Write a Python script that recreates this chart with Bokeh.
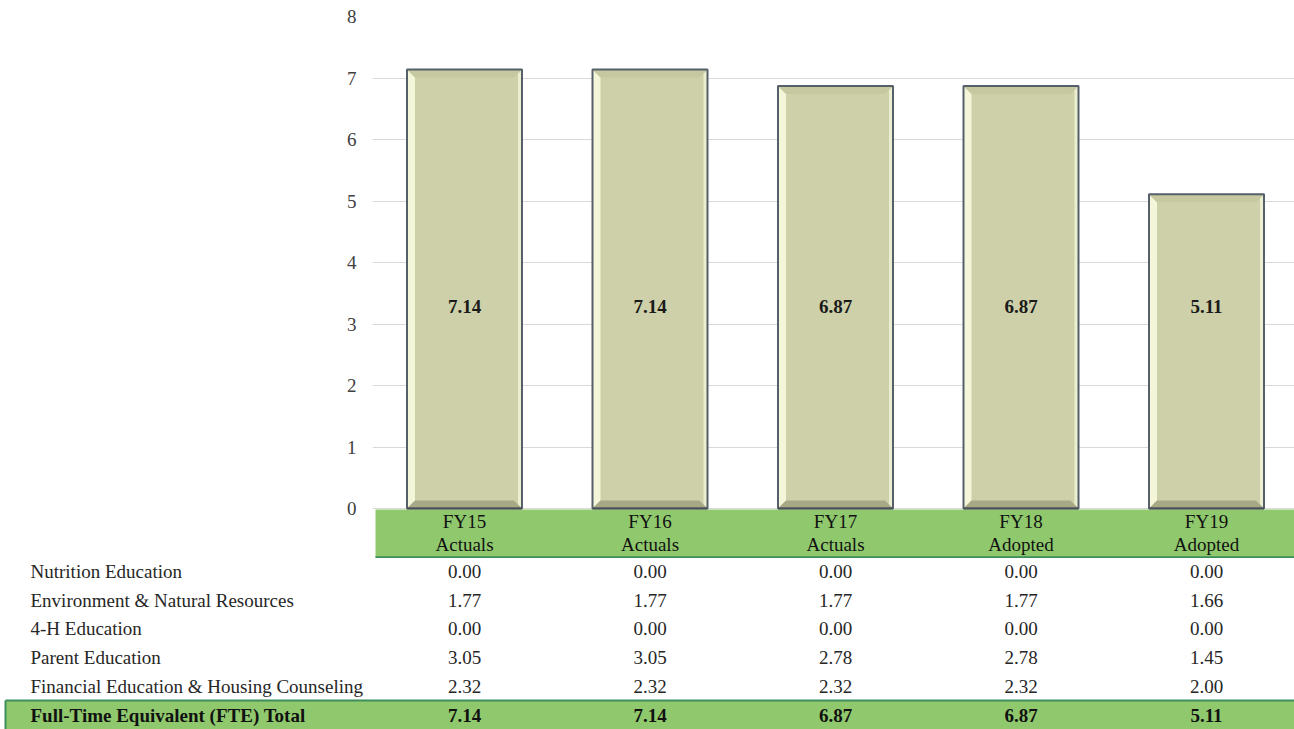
from bokeh.plotting import figure
from bokeh.layouts import column
from bokeh.models import Range1d, FixedTicker
from bokeh.core.properties import value
from bokeh.embed import file_html
from bokeh.resources import INLINE

# ---- data ----
categories = ["FY15\nActuals", "FY16\nActuals", "FY17\nActuals", "FY18\nAdopted", "FY19\nAdopted"]
cat_line1 = ["FY15", "FY16", "FY17", "FY18", "FY19"]
cat_line2 = ["Actuals", "Actuals", "Actuals", "Adopted", "Adopted"]
row_labels = ["Nutrition Education", "Environment & Natural Resources", "4-H Education",
              "Parent Education", "Financial Education & Housing Counseling"]
nutrition = [0.00, 0.00, 0.00, 0.00, 0.00]
environment = [1.77, 1.77, 1.77, 1.77, 1.66]
four_h = [0.00, 0.00, 0.00, 0.00, 0.00]
parent = [3.05, 3.05, 2.78, 2.78, 1.45]
financial = [2.32, 2.32, 2.32, 2.32, 2.00]
fte_total = [7.14, 7.14, 6.87, 6.87, 5.11]
total_label = "Full-Time Equivalent (FTE) Total"
y_ticks = [0, 1, 2, 3, 4, 5, 6, 7, 8]

FONT = value("Liberation Serif")
GREEN = "#90C96D"
DKGREEN = "#3E8E5C"
W = 1294
PX_PER_X = 185.5
PX_PER_Y = 61.5

xs = list(range(len(categories)))

# ---- top chart ----
x_lo = -92 / PX_PER_X
x_hi = x_lo + (W - 372) / PX_PER_X
y_lo = -50 / PX_PER_Y
p = figure(width=W, height=558, output_backend="svg", toolbar_location=None,
           x_range=Range1d(x_lo, x_hi), y_range=Range1d(y_lo, 8),
           min_border_left=372, min_border_right=0, min_border_top=16, min_border_bottom=0)
p.frame_align = False
p.outline_line_color = None
p.xaxis.visible = False
p.xgrid.visible = False
p.ygrid.ticker = FixedTicker(ticks=y_ticks)
p.ygrid.grid_line_color = "#D9D9D9"
p.ygrid.grid_line_width = 1
p.yaxis.ticker = FixedTicker(ticks=y_ticks)
p.yaxis.axis_line_color = None
p.yaxis.major_tick_line_color = None
p.yaxis.minor_tick_line_color = None
p.yaxis.major_tick_out = 0
p.yaxis.major_tick_in = 0
p.yaxis.major_label_standoff = 16
p.yaxis.major_label_text_font = "Liberation Serif"
p.yaxis.major_label_text_font_size = "19px"
p.yaxis.major_label_text_color = "#404040"

bw = 115 / PX_PER_X
bx = 8 / PX_PER_X
by = 8 / PX_PER_Y
p.vbar(x=xs, top=fte_total, width=bw, bottom=0, fill_color="#CDD0A8", line_color=None)

left_x, left_y, right_x, right_y, bot_x, bot_y, top_x, top_y = [], [], [], [], [], [], [], []
for i, v in zip(xs, fte_total):
    l, r = i - bw / 2, i + bw / 2
    left_x.append([l, l + bx, l + bx, l]); left_y.append([v, v - by, by, 0])
    right_x.append([r, r - bx * 0.5, r - bx * 0.5, r]); right_y.append([v, v - by * 0.5, by * 0.5, 0])
    bot_x.append([l, r, r - bx, l + bx]); bot_y.append([0, 0, by, by])
    top_x.append([l, r, r - bx, l + bx]); top_y.append([v, v, v - by, v - by])
p.patches(left_x, left_y, fill_color="#F4F6DA", line_color=None)
p.patches(right_x, right_y, fill_color="#ECEED0", line_color=None)
p.patches(bot_x, bot_y, fill_color="#A7A986", line_color=None)
p.patches(top_x, top_y, fill_color="#C6C9A0", line_color=None)
p.vbar(x=xs, top=fte_total, width=bw, bottom=0, fill_color=None, line_color="#56606A", line_width=2)

p.text(x=xs, y=[3.28] * len(xs), text=[f"{v:.2f}" for v in fte_total], text_font=FONT,
       text_font_size="19px", text_font_style="bold", text_color="#1A1A1A",
       text_align="center", text_baseline="middle")

# header band with category labels
band_top = -1 / PX_PER_Y
band_bot = -49 / PX_PER_Y
p.quad(left=[(375 - 464) / PX_PER_X], right=[x_hi], top=[band_top], bottom=[band_bot],
       fill_color=GREEN, line_color=None)
p.segment(x0=[(375 - 464) / PX_PER_X], x1=[x_hi], y0=[band_bot], y1=[band_bot],
          line_color=DKGREEN, line_width=2.5)
p.vbar(x=xs, top=0, bottom=0, width=bw, line_color="#4A5258", line_width=2)
p.text(x=xs, y=[-13 / PX_PER_Y] * len(xs), text=cat_line1, text_font=FONT, text_font_size="19px",
       text_color="#111111", text_align="center", text_baseline="middle")
p.text(x=xs, y=[-36 / PX_PER_Y] * len(xs), text=cat_line2, text_font=FONT, text_font_size="19px",
       text_color="#111111", text_align="center", text_baseline="middle")

# ---- bottom table ----
ROW = 28.7
TH = 729 - 558
tx_lo = -464 / PX_PER_X
ty_top = -13 / ROW
ty_bot = ty_top + TH / ROW
t = figure(width=W, height=TH, output_backend="svg", toolbar_location=None,
           x_range=Range1d(tx_lo, x_hi), y_range=Range1d(ty_bot, ty_top),
           min_border_left=0, min_border_right=0, min_border_top=0, min_border_bottom=0)
t.frame_align = False
t.outline_line_color = None
t.axis.visible = False
t.grid.visible = False

series = [nutrition, environment, four_h, parent, financial]
band_y0 = (700 - 571) / ROW
band_x0 = (5 - 464) / PX_PER_X
t.quad(left=[band_x0], right=[x_hi], top=[band_y0], bottom=[ty_bot],
       fill_color=GREEN, line_color=None)
t.segment(x0=[band_x0], x1=[x_hi], y0=[band_y0], y1=[band_y0],
          line_color=DKGREEN, line_width=2)
t.segment(x0=[band_x0], x1=[band_x0], y0=[band_y0], y1=[ty_bot],
          line_color=DKGREEN, line_width=2)

label_x = (30 - 464) / PX_PER_X
t.text(x=[label_x] * len(row_labels), y=list(range(len(row_labels))), text=row_labels,
       text_font=FONT, text_font_size="19px", text_color="#262626",
       text_align="left", text_baseline="middle")
for r, vals in enumerate(series):
    t.text(x=xs, y=[r] * len(xs), text=[f"{v:.2f}" for v in vals], text_font=FONT,
           text_font_size="19px", text_color="#262626", text_align="center", text_baseline="middle")
tot_row = len(series)
t.text(x=[label_x], y=[tot_row], text=[total_label], text_font=FONT, text_font_size="19px",
       text_font_style="bold", text_color="#111111", text_align="left", text_baseline="middle")
t.text(x=xs, y=[tot_row] * len(xs), text=[f"{v:.2f}" for v in fte_total], text_font=FONT,
       text_font_size="19px", text_font_style="bold", text_color="#111111",
       text_align="center", text_baseline="middle")

layout = column(p, t, spacing=0)
open("out.html", "w").write(file_html(layout, INLINE))
